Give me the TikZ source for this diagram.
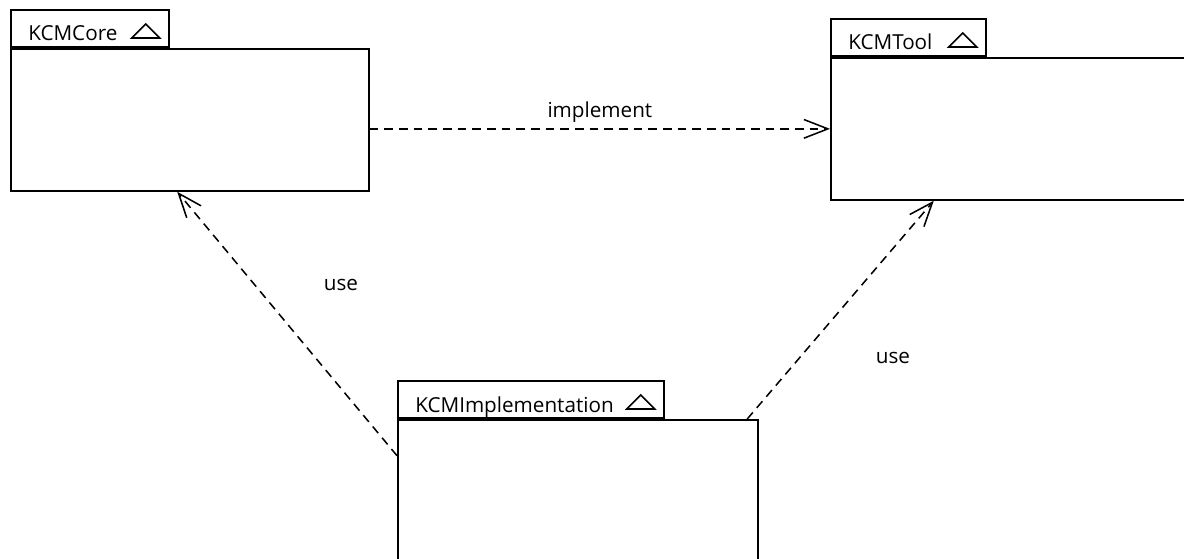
\documentclass[tikz,border=0pt]{standalone}
\usepackage{fontspec}
\setmainfont{Open Sans}
\usetikzlibrary{arrows.meta,positioning,calc}

\newcommand\tabmark[1]{\draw[line width=1.2pt] ([shift={(-10,-10)}]#1.south east) -- ++(-28,0) -- ++(14,-14) -- cycle;}

\begin{document}
\begin{tikzpicture}[
  x=.75pt,y=-.75pt,
  font=\fontsize{15.5pt}{18pt}\selectfont,
  >={Straight Barb[length=18pt,width=14pt]},
  body/.style={draw,line width=1.3pt,anchor=north west,minimum height=106.5pt,inner sep=0pt},
  tab/.style={draw,line width=1.3pt,anchor=south west,minimum height=27.75pt,inner sep=0pt},
  tabtext/.style={anchor=base west,inner sep=0pt},
  dep/.style={->,line width=1.15pt,dash pattern=on 6.5pt off 4.5pt}
]
\clip (0,0) rectangle (1184,559);

% packages
\node[body,minimum width=268.5pt] (core) at (10,48) {};
\node[tab,minimum width=118.5pt] (coreTab) at (core.north west) {};
\node[tabtext] (coreName) at ([shift={(18,-7)}]coreTab.south west) {KCMCore};
\tabmark{coreTab}

\node[body,minimum width=270pt] (tool) at (830,57) {};
\node[tab,minimum width=116.25pt] (toolTab) at (tool.north west) {};
\node[tabtext] (toolName) at ([shift={(18,-7)}]toolTab.south west) {KCMTool};
\tabmark{toolTab}

\node[body,minimum width=270pt] (impl) at (397,419) {};
\node[tab,minimum width=199.5pt] (implTab) at (impl.north west) {};
\node[tabtext] (implName) at ([shift={(18,-7)}]implTab.south west) {KCMImplementation};
\tabmark{implTab}

% dependencies
\draw[dep] (core.east |- tool.west) -- node[above=1pt] (implLbl) {implement} (tool.west);
\draw[dep] (impl.169.6) -- (core.260.7);
\draw[dep] (impl.23.2) -- (tool.223.1);
\node (useCore) at (341,285) {use};
\node (useTool) at (893,358) {use};
\end{tikzpicture}
\end{document}
